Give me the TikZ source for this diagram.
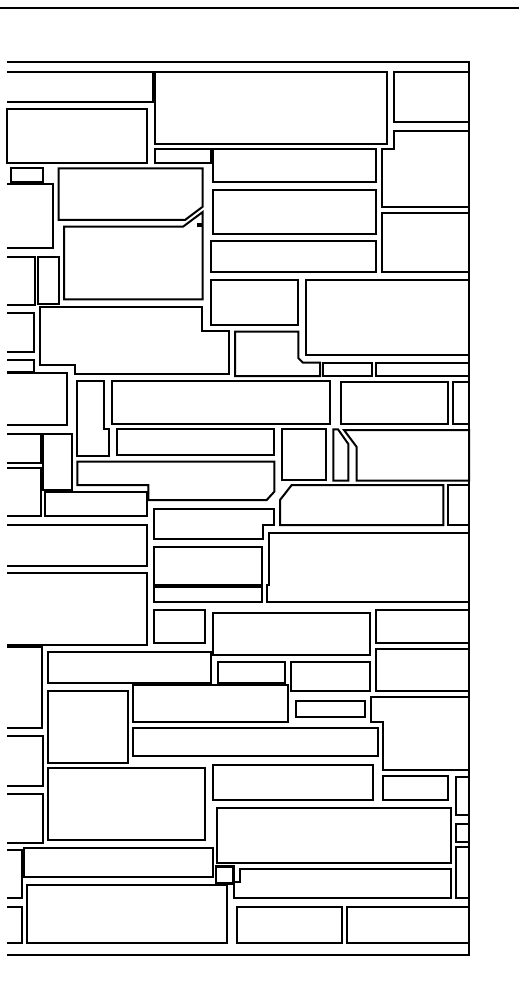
\documentclass[tikz,border=0pt]{standalone}
\begin{document}
\begin{tikzpicture}[x=1pt,y=-1pt]
\tikzset{stone/.style={draw=black,line width=2pt,line join=miter},
         blk/.style={fill=black}}
\newcommand\wst[4]{\draw[stone] (#1,#2) rectangle (#3,#4);}
\newcommand\wlt[3]{\draw[stone] (7,#1) -- (#2,#1) -- (#2,#3) -- (7,#3);}
\useasboundingbox (0,0) rectangle (519,1008);
% top rule and frame
\draw[stone] (0,8) -- (519,8);
\draw[stone] (6.5,62) -- (469,62) -- (469,955) -- (6.5,955);
% stones
\wlt{72.3}{153.3}{101.7}
\wst{7.3}{109.3}{146.7}{163.3}
\wst{154.5}{72.3}{386.7}{144}
\wst{394}{72.3}{469}{122.3}
\wst{155}{149.3}{210.7}{163.3}
\wst{213.3}{149.3}{376}{181.7}
\draw[stone] (394,130.7) -- (469,130.7) -- (469,207.3) -- (381.7,207.3) -- (381.7,149.3) -- (394,149.3) -- cycle;
\wst{381.7}{213.3}{469}{272.3}
\wst{213.3}{190}{376}{234.3}
\wst{210.7}{240.7}{376}{272}
\wst{10.7}{168.3}{43.3}{182.5}
\wlt{184}{53.3}{248.3}
\draw[stone] (58.7,168.3) -- (202.7,168.3) -- (202.7,206.7) -- (185,220) -- (58.7,220) -- cycle;
\draw[stone] (64,226.7) -- (183,226.7) -- (202.7,212) -- (202.7,299.3) -- (64,299.3) -- cycle;
\fill[blk] (196.7,222.7) rectangle (201.7,227.3);
\wlt{256.7}{35}{305}
\wst{38}{256.7}{59.3}{304}
\wlt{312.7}{34.3}{351.7}
\wlt{360}{34.3}{371.5}
\wlt{373.3}{66.7}{425}
\draw[stone] (40,307.3) -- (202.3,307.3) -- (202.3,331) -- (229,331) -- (229,374) -- (75,374) -- (75,365) -- (40,365) -- cycle;
\wst{210.7}{280}{298.3}{325}
\draw[stone] (235,331.7) -- (298.3,331.7) -- (298.3,358) -- (303,362.7) -- (320,362.7) -- (320,376) -- (235,376) -- cycle;
\wst{306}{280}{469}{355}
\wst{323}{362.7}{372}{376}
\wst{375.5}{362.7}{469}{376}
\draw[stone] (77.3,381) -- (104,381) -- (104,429.3) -- (109,429.3) -- (109,455.7) -- (77.3,455.7) -- cycle;
\wst{112.3}{381}{330}{424}
\wst{341}{381.7}{448.3}{424}
\wst{452.7}{381.7}{469}{424}
\wst{117.3}{429.3}{274.3}{455.3}
\wst{282.3}{429.3}{325.7}{480}
\draw[stone] (333.3,429.3) -- (338,429.3) -- (348.3,444) -- (348.3,480.7) -- (333.3,480.7) -- cycle;
\draw[stone] (344,430) -- (469,430) -- (469,480.7) -- (356.7,480.7) -- (356.7,447) -- cycle;
\wlt{434}{40.7}{463.3}
\wst{43.3}{434}{71.7}{490}
\wlt{468.3}{40.7}{516}
\draw[stone] (77.3,461.7) -- (274.3,461.7) -- (274.3,491.7) -- (266.7,500) -- (148.3,500) -- (148.3,485) -- (77.3,485) -- cycle;
\wst{45}{491.7}{146.7}{516}
\draw[stone] (280,500) -- (291.7,485) -- (443.3,485) -- (443.3,525) -- (280,525) -- cycle;
\wst{448.3}{485}{469}{525}
\wlt{525}{146.7}{565.7}
\wlt{572.7}{146.7}{645}
\draw[stone] (154,509.3) -- (274.3,509.3) -- (274.3,525) -- (263.3,525) -- (263.3,539) -- (154,539) -- cycle;
\wst{154}{546.7}{261.7}{584.5}
\wst{154}{586.5}{261.7}{601.7}
\draw[stone] (269.3,533.3) -- (469,533.3) -- (469,601.7) -- (266.7,601.7) -- (266.7,585) -- (269.3,585) -- cycle;
\wst{154}{610}{205}{642.7}
\wst{213.3}{613.3}{370}{655}
\wst{375.7}{610}{469}{642.7}
\wst{375.7}{649.3}{469}{690.7}
\wlt{646.7}{41.7}{728.3}
\wst{48.3}{651.7}{210.7}{682.7}
\wst{218.3}{661.7}{285}{683.3}
\wst{291}{661.7}{370}{690.7}
\wst{133.3}{685.3}{288.3}{721.7}
\wst{296}{701}{365}{716.7}
\draw[stone] (370.7,696.7) -- (469,696.7) -- (469,770) -- (383.3,770) -- (383.3,721.7) -- (370.7,721.7) -- cycle;
\wst{48.3}{690.7}{128.3}{762.7}
\wst{133.3}{728.3}{378.3}{756}
\wlt{736}{43.3}{786}
\wst{48.3}{768.3}{205}{840}
\wst{213.3}{765}{373.3}{800}
\wst{383.3}{776}{448.3}{800}
\wst{455.7}{776.7}{469}{815}
\wst{455.7}{824.3}{469}{841.7}
\wst{455.7}{847.3}{469}{898.3}
\wlt{794.3}{43.3}{842.7}
\wst{216.7}{808}{450.7}{863.3}
\wlt{850}{21.7}{898.3}
\wst{24}{848.3}{213.3}{876.7}
\draw[stone,line width=2.6pt] (216,866.7) rectangle (233.3,883.3);
\wst{26.7}{885}{226.7}{943.3}
\draw[stone] (240,869.3) -- (450.7,869.3) -- (450.7,898.3) -- (234,898.3) -- (234,882) -- (240,882) -- cycle;
\wlt{906.7}{21.7}{943.3}
\wst{236.7}{906.7}{341.7}{943.3}
\wst{346.7}{906.7}{469}{943.3}
\end{tikzpicture}
\end{document}
